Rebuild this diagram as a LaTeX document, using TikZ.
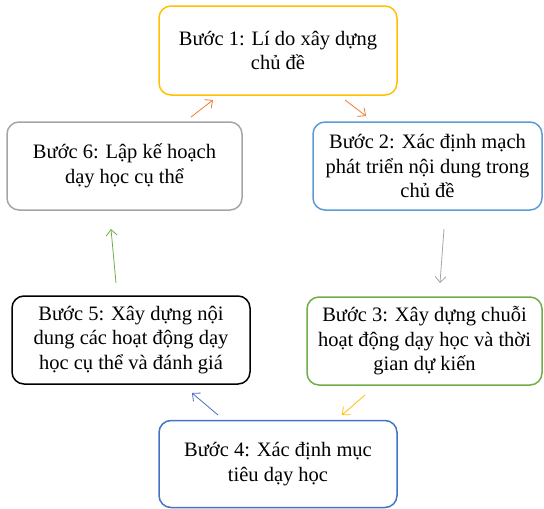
\documentclass[tikz,border=0pt]{standalone}
\usepackage{fontspec}
\setmainfont{Liberation Serif}
\usetikzlibrary{arrows.meta}
\definecolor{cgold}{HTML}{FFC000}
\definecolor{cblueA}{HTML}{5B9BD5}
\definecolor{cgreen}{HTML}{70AD47}
\definecolor{cblueB}{HTML}{4472C4}
\definecolor{cgray}{HTML}{A5A5A5}
\definecolor{corange}{HTML}{ED7D31}
\begin{document}
\begin{tikzpicture}[x=1pt,y=-1pt,
  stepbox/.style={draw, line width=1.5pt, rounded corners=12pt, align=center,
    inner sep=0pt, font=\fontsize{20.5}{24.5}\selectfont},
  conn/.style={line width=0.8pt, -{Straight Barb[length=6pt,width=11pt]}}]
\useasboundingbox (0,0) rectangle (544,509);
\node[stepbox, draw=cgold, minimum width=238pt, minimum height=89pt] (b1) at (278,50.5)
  {Bước 1: Lí do xây dựng\\chủ đề};
\node[stepbox, draw=cblueA, minimum width=229pt, minimum height=88pt] (b2) at (427.5,166)
  {Bước 2: Xác định mạch\\phát triển nội dung trong\\chủ đề};
\node[stepbox, draw=cgreen, minimum width=235pt, minimum height=88pt] (b3) at (424.5,341)
  {Bước 3: Xây dựng chuỗi\\hoạt động dạy học và thời\\gian dự kiến};
\node[stepbox, draw=cblueB, minimum width=238pt, minimum height=87pt] (b4) at (278,464)
  {Bước 4: Xác định mục\\tiêu dạy học};
\node[stepbox, draw=black, minimum width=238pt, minimum height=88pt] (b5) at (131,340)
  {Bước 5: Xây dựng nội\\dung các hoạt động dạy\\học cụ thể và đánh giá};
\node[stepbox, draw=cgray, minimum width=235pt, minimum height=88pt] (b6) at (124.5,166)
  {Bước 6: Lập kế hoạch\\dạy học cụ thể};
\coordinate (a12s) at (345,100); \coordinate (a12e) at (366,116);
\coordinate (a23s) at (444,229); \coordinate (a23e) at (440,283);
\coordinate (a34s) at (365,395); \coordinate (a34e) at (342,415);
\coordinate (a45s) at (218,415); \coordinate (a45e) at (192,393);
\coordinate (a56s) at (116,283); \coordinate (a56e) at (111,229);
\coordinate (a61s) at (191,117); \coordinate (a61e) at (213,100);
\draw[conn, draw=corange] (a12s) -- (a12e);
\draw[conn, draw=cgray] (a23s) -- (a23e);
\draw[conn, draw=cgold] (a34s) -- (a34e);
\draw[conn, draw=cblueB] (a45s) -- (a45e);
\draw[conn, draw=cgreen] (a56s) -- (a56e);
\draw[conn, draw=corange] (a61s) -- (a61e);
\end{tikzpicture}
\end{document}
